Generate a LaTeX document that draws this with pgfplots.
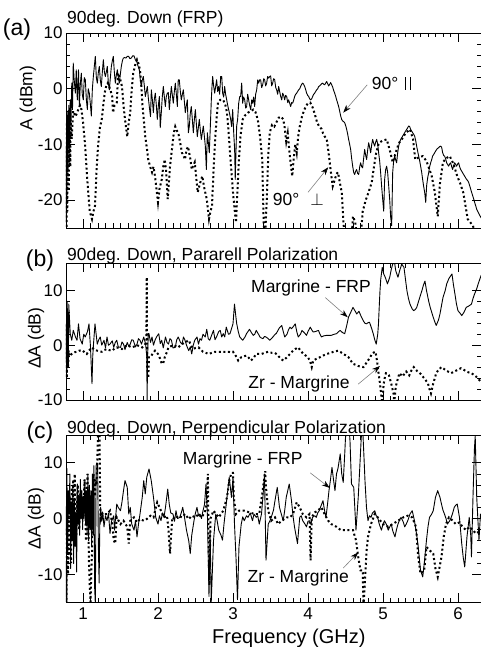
\documentclass[border=0pt]{standalone}
\usepackage{fontspec}
\setmainfont{Liberation Sans}
\usepackage{pgfplots}
\pgfplotsset{compat=1.18}
\usetikzlibrary{arrows.meta}
\newcommand{\fs}[1]{\fontsize{#1}{#1}\selectfont}

\pgfplotsset{
  panel/.style={
    scale only axis, width=415pt,
    xmin=0.7733, xmax=6.307,
    xtick={1,2,3,4,5,6}, minor x tick num=9, minor y tick num=4,
    tick pos=both, tick align=inside,
    major tick length=9pt, minor tick length=4.5pt,
    axis line style={line width=0.9pt},
    every tick/.style={black, line width=0.7pt},
    tick label style={font=\fs{17}},
    /pgf/number format/assume math mode=true,
    ylabel style={font=\fs{17.5}, anchor=center},
    clip mode=individual,
  },
  solidline/.style={black, line width=0.9pt, line join=round, mark=none},
  dotline/.style={black, line width=2pt, dash pattern=on 2pt off 2.6pt, mark=none},
}
\tikzset{
  note/.style={font=\fs{17.5}, inner sep=0pt},
  pointer/.style={gray, line width=0.6pt, -{Stealth[length=8pt, width=5.5pt, black]}},
}

\begin{document}
\begin{tikzpicture}
\useasboundingbox (0,0) rectangle (481pt,-647pt);

% ---------------- (a)
\begin{axis}[panel, at={(66pt,-33pt)}, anchor=north west, height=195pt,
  ymin=-25, ymax=10, ytick={-20,-10,0,10}, xticklabels={,,,,,},
  ylabel={A (dBm)}, ylabel style={at={(axis description cs:-0.092,0.667)}},
]
\addplot[solidline] coordinates {
(0.775,-24) (0.78,-8) (0.785,-20) (0.79,-4) (0.80,-15) (0.81,-3) (0.82,-10) (0.83,-2) (0.84,-6) (0.85,1)
(0.86,-3.75) (0.87,4.6) (0.88,2) (0.898,-0.8) (0.91,3.4) (0.924,-2) (0.94,3.4) (0.951,-3.2) (0.965,1) (0.978,2.8)
(0.99,-1) (1.004,-2) (1.017,2) (1.031,1.6) (1.045,-2) (1.058,-3.75) (1.07,0) (1.084,-0.8) (1.10,-3) (1.111,-4.9)
(1.125,0) (1.138,2.2) (1.164,5.8) (1.178,2) (1.191,1) (1.205,3) (1.218,4) (1.231,1.5) (1.244,0.4) (1.258,3)
(1.271,5.2) (1.285,3) (1.298,2.2) (1.311,3) (1.324,4) (1.338,1) (1.351,-0.2) (1.365,2) (1.378,4) (1.391,5)
(1.404,5.8) (1.418,3) (1.431,1) (1.445,2.5) (1.458,3.4) (1.471,2) (1.484,1) (1.497,2.5) (1.511,4) (1.525,5)
(1.538,5.5) (1.555,5.6) (1.573,5.5) (1.59,5.8) (1.609,5.8) (1.625,5.4) (1.644,5.5) (1.662,5.9) (1.68,5.9) (1.698,5.2)
(1.716,4.9) (1.735,4) (1.751,3.4) (1.765,1.5) (1.778,0.4) (1.79,1.5) (1.804,2.2) (1.818,0.5) (1.831,-1.4) (1.845,-0.5)
(1.858,0.4) (1.87,-1.5) (1.884,-3.2) (1.9,-5) (1.911,-0.2) (1.925,-2) (1.938,-4.3) (1.95,-2) (1.964,-0.8) (1.978,-3)
(1.991,-5.5) (2.005,-3) (2.018,-1.4) (2.03,-7) (2.044,-4.3) (2.057,-1.5) (2.071,0.4) (2.085,-1.5) (2.098,-3.2) (2.11,-1.5)
(2.124,-0.8) (2.138,-0.7) (2.151,-3.75) (2.165,-1.5) (2.178,0.4) (2.19,-1) (2.204,-2.6) (2.218,-0.5) (2.231,1) (2.245,-1)
(2.258,-3.2) (2.27,1.6) (2.284,1.6) (2.298,-0.5) (2.311,-2) (2.325,-1) (2.338,-0.2) (2.35,-2) (2.364,-4.3) (2.378,-3)
(2.391,-2) (2.405,-7.9) (2.418,-6.7) (2.43,-4.5) (2.444,-3.2) (2.458,-5.5) (2.471,-7.9) (2.485,-5.5) (2.498,-3.75) (2.51,-6)
(2.524,-8.6) (2.538,-7) (2.551,-5.5) (2.565,-7.5) (2.578,-9.1) (2.59,-8) (2.604,-6.7) (2.618,-8.5) (2.631,-10.3) (2.645,-14.5)
(2.658,-7.9) (2.67,-9.5) (2.684,-11.5) (2.70,-6) (2.711,-2) (2.72,0.4) (2.729,2.2) (2.742,0.5) (2.756,-0.8) (2.77,0.5)
(2.782,1.6) (2.796,-0.5) (2.809,0.4) (2.822,-1) (2.836,2.2) (2.85,2.2) (2.862,-0.8) (2.876,-1.5) (2.889,0.4) (2.902,-1)
(2.916,-2) (2.93,-3) (2.942,-3.75) (2.955,-4.5) (2.969,-5.5) (2.982,-6.8) (2.996,-3.75) (3.01,-8) (3.022,-10.9) (3.03,-16.3)
(3.049,-6.7) (3.062,-5.5) (3.076,-2.6) (3.09,-1.4) (3.102,-1.4) (3.116,1) (3.129,-2.6) (3.142,-1.5) (3.156,-2) (3.17,-3.5)
(3.182,-3.2) (3.196,-1) (3.209,-2) (3.222,-3) (3.236,-3.75) (3.25,-2) (3.262,-2.6) (3.276,-1.5) (3.289,-3.2) (3.302,-1)
(3.316,-0.2) (3.33,1.6) (3.342,1) (3.356,1.6) (3.369,1.6) (3.382,0.2) (3.396,0.7) (3.41,1.8) (3.422,1.6) (3.436,0.5)
(3.449,1) (3.462,2.2) (3.476,1.9) (3.49,2.2) (3.502,2.3) (3.516,0.5) (3.529,1) (3.542,1.8) (3.556,1.6) (3.57,0.2)
(3.582,-0.2) (3.596,-1) (3.609,0.4) (3.622,-0.5) (3.636,-1.4) (3.65,-2) (3.662,-0.8) (3.676,-1.2) (3.689,-2) (3.702,-1.2)
(3.716,-1.4) (3.73,-2.5) (3.742,-2) (3.756,-2.6) (3.769,-3.2) (3.782,-2.5) (3.796,-2.6) (3.81,-2) (3.822,-1.4) (3.836,-1)
(3.849,-0.8) (3.862,-0.5) (3.876,-0.2) (3.89,0) (3.902,0.4) (3.916,0.8) (3.929,1) (3.942,0.8) (3.956,0.4) (3.97,-0.2)
(3.982,-0.8) (3.996,-1.2) (4.009,-1.4) (4.022,-1.8) (4.036,-2) (4.05,-1.8) (4.062,-1.4) (4.076,-1) (4.089,-0.8) (4.102,-0.5)
(4.116,-0.2) (4.13,0) (4.142,0.4) (4.156,0.5) (4.169,0.7) (4.182,0.9) (4.196,1) (4.21,0.8) (4.222,0.7) (4.236,1)
(4.249,1.3) (4.262,0.9) (4.276,0.5) (4.29,0.8) (4.302,1.1) (4.316,0.7) (4.329,0.3) (4.342,-0.3) (4.356,-0.8) (4.37,-1.4)
(4.382,-2) (4.396,-2.6) (4.409,-3.2) (4.422,-4) (4.436,-4.9) (4.449,-5.5) (4.462,-5.8) (4.476,-5.9) (4.489,-6.1) (4.502,-6.6)
(4.516,-7.3) (4.53,-8.2) (4.542,-9.1) (4.556,-10) (4.569,-10.9) (4.582,-12.5) (4.596,-13.9) (4.609,-15) (4.622,-15.4) (4.636,-14.8)
(4.649,-14.5) (4.662,-15.2) (4.676,-15.4) (4.69,-14) (4.702,-13.3) (4.716,-14) (4.729,-14.2) (4.742,-12.5) (4.756,-10.9) (4.77,-12)
(4.782,-12.7) (4.796,-11) (4.809,-9.7) (4.822,-10.5) (4.836,-11.5) (4.85,-10) (4.862,-9.1) (4.876,-9.8) (4.889,-10.3) (4.902,-9.6)
(4.916,-9.1) (4.93,-10) (4.942,-11.5) (4.956,-13) (4.969,-15.1) (4.982,-17.5) (4.996,-19.8) (5.01,-22) (5.022,-16.3) (5.036,-14.5)
(5.049,-13.9) (5.062,-15) (5.076,-17.4) (5.09,-20) (5.102,-23) (5.116,-24.6) (5.129,-15.1) (5.142,-13) (5.156,-12.1) (5.17,-12.8)
(5.182,-13.3) (5.196,-11.5) (5.209,-10.3) (5.222,-9.6) (5.236,-9.1) (5.25,-8.8) (5.262,-8.5) (5.276,-8.2) (5.289,-7.9) (5.302,-7.6)
(5.316,-7.3) (5.33,-7) (5.342,-6.7) (5.356,-6.8) (5.369,-7.3) (5.382,-7.6) (5.396,-7.9) (5.41,-8.2) (5.422,-8.5) (5.436,-9.3)
(5.449,-10.3) (5.462,-11.2) (5.476,-12.1) (5.49,-13) (5.502,-13.9) (5.516,-15) (5.529,-16.3) (5.542,-17.5) (5.556,-18.6) (5.57,-20.4)
(5.582,-17.4) (5.596,-16) (5.609,-15.1) (5.622,-14) (5.636,-13.3) (5.65,-12.7) (5.662,-12.1) (5.676,-11.8) (5.689,-11.5) (5.702,-11.2)
(5.716,-10.9) (5.73,-10.7) (5.742,-10.6) (5.756,-10.4) (5.769,-10.3) (5.782,-10.5) (5.796,-11.5) (5.81,-12) (5.822,-12.1) (5.836,-12.6)
(5.849,-13.3) (5.862,-13.6) (5.876,-13.9) (5.89,-13.5) (5.902,-13.3) (5.916,-14) (5.929,-14.5) (5.942,-13.8) (5.956,-13.3) (5.97,-13.6)
(5.982,-13.9) (5.996,-13.5) (6.009,-13.3) (6.022,-14) (6.036,-14.5) (6.05,-14.8) (6.062,-15.1) (6.076,-15.4) (6.089,-15.7) (6.102,-16)
(6.116,-16.3) (6.13,-16.5) (6.142,-16.8) (6.156,-17.4) (6.169,-18) (6.182,-18.6) (6.196,-19.2) (6.21,-19.8) (6.222,-20.4) (6.236,-21)
(6.249,-21.6) (6.27,-22.2) (6.293,-22.8) (6.31,-23.2)
};
\addplot[dotline] coordinates {
(0.775,-12) (0.78,-25) (0.785,-6) (0.79,-22) (0.80,-8) (0.81,-18) (0.82,-5) (0.83,-14) (0.835,-5.5) (0.85,-9)
(0.87,-4) (0.9,-5) (0.93,-4) (0.96,-3) (0.98,-3.75) (1.0,-6) (1.03,-10.4) (1.05,-15) (1.07,-18.6) (1.09,-22)
(1.12,-23.4) (1.14,-22) (1.16,-21) (1.18,-15) (1.2,-10.4) (1.225,-7) (1.25,-5.5) (1.27,-3) (1.29,-0.7) (1.31,0.5)
(1.33,1) (1.36,0) (1.39,-1.4) (1.4,-4.3) (1.42,-3) (1.45,-2.5) (1.47,2.8) (1.49,2) (1.52,0.4) (1.54,-3)
(1.56,-5.5) (1.59,-8.6) (1.61,-6) (1.63,-4.3) (1.65,0) (1.67,2.8) (1.7,4.5) (1.72,5.2) (1.74,4.5) (1.76,3.4)
(1.775,1) (1.79,-2.5) (1.81,-5.5) (1.83,-8.6) (1.85,-10.5) (1.87,-12.7) (1.895,-14) (1.92,-15) (1.94,-14) (1.96,-15.7)
(1.98,-18) (2.0,-20.4) (2.02,-18) (2.05,-16.3) (2.07,-14) (2.09,-12.7) (2.11,-15) (2.13,-19.8) (2.16,-14) (2.19,-10.4)
(2.21,-8) (2.23,-6.8) (2.25,-7.5) (2.27,-7.9) (2.3,-10) (2.32,-11.5) (2.34,-12) (2.36,-12.7) (2.38,-11) (2.4,-10.4)
(2.43,-12.5) (2.45,-14.5) (2.47,-13.8) (2.49,-13.2) (2.51,-16) (2.53,-18.6) (2.56,-17) (2.59,-15.7) (2.62,-18) (2.65,-19.8)
(2.68,-23.4) (2.7,-22) (2.72,-21) (2.74,-15) (2.76,-9.6) (2.78,-5.5) (2.8,-2.5) (2.83,-2) (2.87,-2) (2.9,-3)
(2.92,-4.3) (2.94,-7.5) (2.96,-11.5) (2.98,-15) (3.0,-18.6) (3.02,-21.5) (3.04,-24) (3.06,-18) (3.08,-12.7) (3.1,-8.5)
(3.13,-5.5) (3.16,-4.8) (3.2,-4.3) (3.24,-4) (3.27,-3.75) (3.3,-4.2) (3.33,-5.5) (3.36,-8.5) (3.39,-12.7) (3.41,-24.6)
(3.43,-26) (3.45,-20) (3.47,-12) (3.49,-7.9) (3.52,-6.5) (3.55,-6.8) (3.58,-6) (3.61,-5.2) (3.64,-5) (3.67,-5.5)
(3.69,-7) (3.71,-9.5) (3.73,-8) (3.75,-11) (3.77,-13.5) (3.79,-15.7) (3.81,-12.5) (3.83,-10) (3.85,-11.5) (3.87,-8.5)
(3.89,-6.8) (3.92,-5) (3.95,-3.8) (3.98,-3) (4.0,-2.6) (4.03,-2.5) (4.06,-3.3) (4.09,-4.5) (4.12,-6) (4.15,-6.8)
(4.18,-7.2) (4.2,-8) (4.22,-8.5) (4.25,-9.1) (4.27,-11) (4.29,-13.2) (4.31,-15.5) (4.33,-17.5) (4.36,-16.2) (4.38,-15.3)
(4.4,-15) (4.42,-16.5) (4.45,-18.6) (4.47,-23.4) (4.49,-27) (4.58,-27) (4.6,-22.9) (4.63,-24) (4.66,-27) (4.7,-27)
(4.73,-22) (4.77,-20) (4.81,-18.5) (4.85,-16.8) (4.88,-14) (4.91,-11.5) (4.94,-10) (4.96,-9.6) (5.0,-9.3) (5.05,-9.1)
(5.09,-11) (5.13,-13.2) (5.17,-11.5) (5.21,-9.8) (5.25,-9.1) (5.3,-8) (5.36,-7.3) (5.4,-9) (5.43,-12.7) (5.48,-12.3)
(5.53,-12.1) (5.58,-13) (5.62,-14.5) (5.65,-15.7) (5.69,-18.5) (5.73,-22.9) (5.76,-17) (5.8,-13.2) (5.84,-12.5) (5.89,-12.1)
(5.94,-13.5) (5.99,-15.7) (6.03,-17) (6.07,-18.6) (6.1,-21) (6.13,-23.4) (6.2,-24.6) (6.25,-27) (6.31,-27)
};
\node[note, anchor=base west] at (axis cs:4.85,-0.2) {90°\hspace{7pt}\rule{0.9pt}{13pt}\hspace{3.5pt}\rule{0.9pt}{13pt}};
\draw[pointer] (axis cs:4.79,0.7) -- (axis cs:4.47,-4.3);
\node[note, anchor=base west] at (axis cs:3.53,-21.0) {90°\hspace{11pt}$\perp$};
\draw[pointer] (axis cs:4.0,-18.6) -- (axis cs:4.27,-14.1);
\node[font=\fs{17.5}, inner sep=0pt, anchor=base west] at (axis description cs:0,1) [yshift=9.5pt, xshift=1pt] {90deg. Down (FRP)};
\node[font=\fs{23}, inner sep=0pt, anchor=base] at (axis description cs:0,1) [xshift=-49pt, yshift=-3pt] {(a)};
\end{axis}

% ---------------- (b)
\begin{axis}[panel, at={(66pt,-263pt)}, anchor=north west, height=137pt,
  ymin=-10, ymax=15, ytick={-10,0,10}, xticklabels={,,,,,},
  ylabel={ΔA (dB)}, ylabel style={at={(axis description cs:-0.072,0.45)}},
]
\addplot[solidline] coordinates {
(0.775,-3) (0.78,5) (0.785,-5) (0.79,8) (0.795,-2) (0.80,6) (0.805,-4) (0.81,7.5) (0.83,2.1) (0.85,0.9)
(0.87,2.7) (0.9,1.5) (0.92,0.9) (0.94,3.9) (0.96,1.2) (0.99,0.2) (1.01,2) (1.03,1.5) (1.06,2.5) (1.08,3.9)
(1.1,-0.4) (1.12,-7.0) (1.13,-2) (1.14,0.2) (1.16,3.9) (1.19,0.2) (1.21,1) (1.23,1.5) (1.25,0) (1.28,0.9)
(1.3,-0.5) (1.32,1.5) (1.34,0) (1.36,0.2) (1.39,0.8) (1.41,-0.4) (1.43,0.5) (1.45,0.9) (1.47,-0.3) (1.5,-0.4)
(1.52,0.6) (1.54,0.2) (1.56,-0.8) (1.59,0.5) (1.61,-0.2) (1.63,0.2) (1.65,1) (1.67,0.9) (1.7,-0.3) (1.72,0.2)
(1.74,1.2) (1.76,0.9) (1.78,0.2) (1.81,1.5) (1.835,0.2) (1.85,-2) (1.855,-10.5) (1.86,-3) (1.87,2.1) (1.88,2.1)
(1.9,0.5) (1.92,1.5) (1.94,0) (1.96,0.9) (1.98,1.5) (2.01,2.1) (2.03,0.3) (2.05,0.9) (2.07,-0.5) (2.1,1.5)
(2.12,0.5) (2.14,0.2) (2.16,1.2) (2.18,0.9) (2.2,-0.5) (2.23,-0.4) (2.25,1) (2.27,1.5) (2.3,0.5) (2.32,0.2)
(2.34,1.5) (2.36,0.9) (2.38,0) (2.41,-1.0) (2.43,-0.3) (2.45,-1.6) (2.47,0) (2.49,0.9) (2.52,1.5) (2.54,0.2)
(2.56,1.2) (2.58,0.9) (2.6,2) (2.63,1.5) (2.65,2.9) (2.67,1.2) (2.69,0.9) (2.72,2) (2.74,2.7) (2.76,1)
(2.78,1.5) (2.81,2.5) (2.83,2.7) (2.85,1.5) (2.87,2.1) (2.89,1.5) (2.91,3.3) (2.94,2) (2.96,2.1) (2.98,3)
(3.0,3.9) (3.02,7.5) (3.04,5) (3.05,3.9) (3.07,2.5) (3.09,1.5) (3.11,1.2) (3.13,0.9) (3.16,1.5) (3.18,2.1)
(3.2,2.5) (3.22,2.9) (3.25,2.2) (3.27,1.8) (3.29,2) (3.31,2.7) (3.34,2) (3.36,1.5) (3.38,1.3) (3.4,1.2)
(3.42,1.6) (3.44,1.5) (3.47,1.2) (3.49,0.9) (3.52,1.3) (3.55,1.8) (3.58,2.2) (3.6,2.7) (3.62,3.2) (3.65,3.6)
(3.67,2.5) (3.69,1.5) (3.72,2) (3.74,2.8) (3.76,3.3) (3.78,3) (3.81,3.5) (3.83,3.9) (3.85,2.5) (3.87,1.5)
(3.9,2) (3.92,2.7) (3.95,2.3) (3.98,1.8) (4.0,2.5) (4.03,3.3) (4.05,2.8) (4.07,2.4) (4.1,2.5) (4.14,2.7)
(4.16,2) (4.18,1.5) (4.21,1.7) (4.25,1.8) (4.28,1.8) (4.31,1.8) (4.35,2) (4.38,2.1) (4.41,2.5) (4.43,2.7)
(4.46,2.3) (4.49,2.1) (4.52,3.8) (4.54,5.1) (4.57,6) (4.6,6.9) (4.63,6.2) (4.65,5.7) (4.68,6.2) (4.71,5.2)
(4.74,4.4) (4.76,4) (4.78,3.9) (4.8,4.1) (4.82,4.2) (4.85,3) (4.87,2.1) (4.89,1) (4.91,0.2) (4.93,2)
(4.94,3.9) (4.95,7) (4.96,9.9) (4.97,12) (4.99,14.2) (5.01,13) (5.03,12.4) (5.06,11.2) (5.09,12.4) (5.11,13.8)
(5.13,14.8) (5.15,15.5) (5.17,13.6) (5.2,12.4) (5.22,13.5) (5.25,14.8) (5.28,14.2) (5.3,12) (5.32,9.9) (5.34,8.5)
(5.36,7.5) (5.39,6.6) (5.41,6.3) (5.43,6.5) (5.45,6.9) (5.47,7.8) (5.49,8.7) (5.52,10) (5.54,11) (5.56,11.7)
(5.58,10) (5.61,8) (5.63,6.9) (5.65,6) (5.67,5.1) (5.69,4.3) (5.71,3.6) (5.74,4.6) (5.76,5.7) (5.78,7.2)
(5.8,8.7) (5.83,10) (5.85,11.2) (5.88,12.2) (5.92,13) (5.94,11) (5.96,9.3) (5.98,7.5) (6.0,6.3) (6.03,5.8)
(6.05,5.4) (6.08,6) (6.11,6.9) (6.15,7.2) (6.18,7.5) (6.2,8.5) (6.22,9.3) (6.25,10.3) (6.27,11.2) (6.3,12.4)
(6.31,12.8)
};
\addplot[dotline] coordinates {
(0.775,-5) (0.78,4) (0.785,-6) (0.79,6) (0.795,-3) (0.80,-4) (0.81,-1) (0.82,-2) (0.85,-1.6) (0.88,-1.3)
(0.92,-1.2) (0.95,-1) (0.99,-0.9) (1.02,-1.3) (1.05,-1.6) (1.08,-1) (1.12,-0.4) (1.15,-0.8) (1.19,-1.0) (1.22,-1.1)
(1.25,-1.2) (1.28,-0.9) (1.32,-0.7) (1.35,-0.9) (1.39,-1.0) (1.42,-0.6) (1.45,-0.4) (1.49,-0.6) (1.52,-0.7) (1.55,-0.3)
(1.59,0.0) (1.62,-0.2) (1.65,-0.4) (1.69,-0.2) (1.72,0.0) (1.76,-0.2) (1.79,-0.4) (1.83,0.2) (1.845,0.5) (1.85,12.4)
(1.855,-4) (1.87,-6) (1.88,-2.2) (1.9,-2.2) (1.93,-1.5) (1.96,-1.0) (2.0,-1.6) (2.03,-2.5) (2.05,-3.4) (2.07,-3.3)
(2.09,-2.2) (2.12,-1.2) (2.14,-0.4) (2.17,-0.2) (2.2,0.0) (2.24,-0.2) (2.27,-0.4) (2.3,0) (2.32,0.2) (2.36,0.5)
(2.41,0.9) (2.44,0) (2.47,-0.7) (2.5,-0.5) (2.54,-0.4) (2.57,-0.8) (2.6,-1.2) (2.64,-1.4) (2.67,-1.6) (2.72,-1.4)
(2.76,-1.2) (2.81,-1.2) (2.85,-1.2) (2.9,-1.2) (2.94,-1.2) (2.97,-1.3) (3.0,-1.2) (3.04,-2) (3.07,-2.8) (3.09,-2.5)
(3.11,-2.2) (3.15,-2) (3.18,-1.9) (3.21,-2.3) (3.24,-2.8) (3.28,-2.2) (3.31,-1.6) (3.35,-1.6) (3.38,-1.6) (3.42,-1.4)
(3.47,-1.2) (3.52,-1.4) (3.56,-1.4) (3.6,-1.9) (3.64,-2.5) (3.67,-2.8) (3.72,-2.2) (3.76,-1.6) (3.8,-1.0) (3.83,-0.7)
(3.87,-0.4) (3.9,-1) (3.94,-1.6) (3.97,-1.9) (4.0,-2.2) (4.03,-3) (4.05,-4.0) (4.07,-2.8) (4.11,-2.5) (4.16,-2.2)
(4.2,-1.9) (4.25,-1.6) (4.3,-1.4) (4.34,-1.2) (4.4,-1.0) (4.44,-1.3) (4.47,-1.6) (4.51,-1.9) (4.54,-2.2) (4.57,-2.8)
(4.6,-3.4) (4.64,-3.6) (4.67,-3.8) (4.7,-3.9) (4.74,-4.0) (4.77,-3.4) (4.8,-2.8) (4.83,-2.2) (4.85,-1.6) (4.88,-1.3)
(4.9,-1.2) (4.92,-2.8) (4.94,-5) (4.96,-7.0) (4.98,-9.5) (4.99,-10.5) (5.01,-7.0) (5.03,-5.5) (5.04,-5.1) (5.06,-5.2)
(5.08,-5.5) (5.11,-7.0) (5.14,-8.8) (5.15,-10.5) (5.17,-7.6) (5.2,-6) (5.22,-5.1) (5.26,-5.7) (5.31,-4.8) (5.35,-5.5)
(5.38,-4.6) (5.41,-4.0) (5.46,-4.8) (5.5,-5.2) (5.53,-5.7) (5.57,-6.4) (5.6,-7.0) (5.62,-8) (5.64,-8.8) (5.66,-7.6)
(5.67,-7.0) (5.71,-5.1) (5.74,-4.5) (5.78,-4.0) (5.81,-4.3) (5.84,-4.6) (5.88,-4.9) (5.91,-5.1) (5.95,-4.8) (5.98,-4.6)
(6.01,-4.4) (6.04,-4.2) (6.08,-4.5) (6.11,-4.8) (6.15,-5) (6.18,-5.1) (6.21,-5.4) (6.24,-5.7) (6.27,-6.1) (6.31,-6.8)
};
\node[note] at (axis cs:4.04,10.5) {Margrine - FRP};
\draw[pointer] (axis cs:4.23,8.7) -- (axis cs:4.53,5.1);
\node[note] at (axis cs:3.88,-7.1) {Zr - Margrine};
\draw[pointer] (axis cs:4.67,-7.1) -- (axis cs:4.96,-3.8);
\node[font=\fs{17.5}, inner sep=0pt, anchor=base west] at (axis description cs:0,1) [yshift=3pt, xshift=1pt] {90deg. Down, Pararell Polarization};
\node[font=\fs{23}, inner sep=0pt, anchor=base] at (axis description cs:0,1) [xshift=-26pt, yshift=-3pt] {(b)};
\end{axis}

% ---------------- (c)
\begin{axis}[panel, at={(66pt,-435pt)}, anchor=north west, height=167pt,
  ymin=-15, ymax=15, ytick={-10,0,10},
  xticklabel style={yshift=-2pt},
  ylabel={ΔA (dB)}, ylabel style={at={(axis description cs:-0.072,0.50)}},
  xlabel={Frequency (GHz)},
  xlabel style={font=\fs{20}, inner sep=0pt, at={(axis description cs:0.537,0)}, anchor=north, yshift=-27pt},
]
\addplot[solidline] coordinates {
(0.775,-3) (0.785,9) (0.795,-6) (0.805,5) (0.815,0.8) (0.825,8) (0.835,-9) (0.845,3) (0.855,-4) (0.865,6)
(0.875,-8.1) (0.885,3.6) (0.895,-5) (0.905,0.8) (0.915,-9.6) (0.925,6.2) (0.935,-1) (0.945,4) (0.955,-3) (0.965,7)
(0.975,0) (0.985,5) (0.995,-2) (1.005,4) (1.015,0) (1.025,7) (1.035,-1) (1.045,5) (1.055,-3) (1.065,8)
(1.075,-4) (1.085,6) (1.095,-2) (1.105,5) (1.115,-5) (1.125,8) (1.135,-3) (1.145,9.5) (1.155,-12.3) (1.165,-15.5)
(1.175,9.5) (1.185,10) (1.195,9.8) (1.205,-5) (1.215,-11.6) (1.225,0) (1.235,2) (1.25,-0.5) (1.265,1) (1.28,-1.5)
(1.3,0.5) (1.32,-0.4) (1.34,1) (1.36,-2.7) (1.38,-0.5) (1.41,0.5) (1.42,-2.1) (1.45,2.6) (1.47,2) (1.5,1.4)
(1.52,3) (1.54,5.0) (1.56,6.8) (1.59,5.6) (1.61,0.8) (1.63,2.0) (1.65,-1.0) (1.68,-2.1) (1.7,-0.4) (1.72,-3.3)
(1.74,-1.0) (1.76,0.8) (1.79,3.8) (1.81,6.8) (1.83,4.4) (1.85,7.4) (1.88,8.9) (1.91,6.8) (1.94,3.8) (1.97,0.2)
(2.0,-1.0) (2.02,0.5) (2.04,-0.4) (2.06,1) (2.08,0.2) (2.1,2) (2.13,5.3) (2.15,2.6) (2.17,1) (2.2,0.8)
(2.22,-0.5) (2.24,1.4) (2.26,0) (2.29,0.2) (2.31,1) (2.33,2.0) (2.35,0.5) (2.38,-2.1) (2.41,-4) (2.43,-6.3)
(2.45,-3) (2.48,-0.4) (2.5,1) (2.52,2.0) (2.54,0.5) (2.56,0.8) (2.58,0) (2.6,1.4) (2.62,2.5) (2.64,6.2)
(2.66,0.2) (2.68,-14) (2.695,-2.1) (2.71,-15) (2.74,-4) (2.77,0.8) (2.79,-0.5) (2.81,-2.1) (2.84,-3) (2.86,-3.9)
(2.88,-1) (2.9,1.4) (2.92,3.8) (2.95,7.4) (2.98,3.8) (3.0,7.4) (3.02,-1.0) (3.04,-7) (3.06,-14.6) (3.08,-5.0)
(3.11,-1.0) (3.13,0.3) (3.15,-0.4) (3.18,0.5) (3.2,0.2) (3.23,1) (3.26,-0.4) (3.28,0.8) (3.31,0.2) (3.33,0.5)
(3.35,-1.0) (3.38,0.8) (3.4,4) (3.42,8.0) (3.44,-7.5) (3.47,-1.0) (3.49,-0.5) (3.51,0.2) (3.54,1.5) (3.56,3.2)
(3.59,5.6) (3.62,2.0) (3.64,1) (3.67,-0.4) (3.69,1.5) (3.71,3.8) (3.75,6.2) (3.78,3.2) (3.8,0.5) (3.82,-1.5)
(3.84,-3) (3.86,-4.5) (3.89,0.2) (3.91,0.5) (3.93,-0.4) (3.96,-1) (3.98,-1.5) (4.0,-0.5) (4.02,-0.4) (4.04,-1)
(4.06,0.2) (4.09,0.5) (4.11,0.2) (4.13,1) (4.15,1.4) (4.18,2.5) (4.2,3.2) (4.22,1.5) (4.24,0.2) (4.26,2.5)
(4.28,5.0) (4.3,7) (4.32,9.2) (4.34,7) (4.36,5.0) (4.38,8.0) (4.4,9) (4.43,11.6) (4.45,8) (4.47,6.5)
(4.49,11.6) (4.5,14.5) (4.52,16) (4.55,16) (4.56,14) (4.58,6.2) (4.61,5.6) (4.64,-2.1) (4.67,3.8) (4.69,9)
(4.71,14.5) (4.73,16) (4.75,10) (4.76,6.8) (4.78,2) (4.8,-0.4) (4.82,0.5) (4.84,0.2) (4.86,1) (4.89,1.4)
(4.91,0.5) (4.93,0.2) (4.95,-1) (4.98,-2.1) (5.0,-1) (5.02,-0.4) (5.05,-1.2) (5.07,-2.1) (5.09,-1.5) (5.11,-1.0)
(5.13,-2.2) (5.16,-3.3) (5.18,-2) (5.2,-1.0) (5.22,-0.3) (5.24,0.2) (5.27,-0.6) (5.29,-1.5) (5.31,-1) (5.33,-0.4)
(5.36,0.8) (5.39,1.4) (5.42,-0.4) (5.45,-3) (5.47,-5.1) (5.5,-9.3) (5.53,-10.5) (5.55,-8.1) (5.58,-3.9) (5.6,-1.5)
(5.62,0.2) (5.65,0.8) (5.67,1.4) (5.7,3.8) (5.73,5.0) (5.76,3.8) (5.78,2.6) (5.8,1.5) (5.82,0.8) (5.84,0)
(5.86,-1.0) (5.89,-0.4) (5.91,0.2) (5.93,1) (5.95,2.0) (5.97,2.4) (5.99,2.6) (6.02,0.2) (6.05,-4.5) (6.07,-7)
(6.09,-8.7) (6.12,-3.3) (6.15,0.2) (6.17,-3) (6.18,-6.9) (6.2,3.8) (6.22,12.7) (6.23,14.8) (6.25,3.8) (6.28,-3.9)
(6.3,0.8) (6.31,0)
};
\addplot[dotline] coordinates {
(0.775,-8) (0.78,-15) (0.79,5) (0.80,-10) (0.81,2) (0.82,4) (0.83,-6) (0.84,-8) (0.85,6) (0.86,-2)
(0.87,7) (0.88,-4) (0.89,8) (0.9,3) (0.91,-3) (0.92,2) (0.93,6) (0.94,4) (0.95,-2) (0.96,4)
(0.97,5) (0.98,1) (0.99,4) (1.0,1) (1.01,3) (1.02,7) (1.03,2) (1.04,-4) (1.05,3) (1.06,8)
(1.07,0) (1.08,-8) (1.09,-12) (1.1,-15) (1.11,-10) (1.12,-6) (1.13,3) (1.14,8) (1.15,6) (1.16,4)
(1.17,7) (1.18,6) (1.19,10) (1.2,15) (1.21,16) (1.22,15) (1.23,2) (1.24,0) (1.26,1) (1.28,0.8)
(1.32,0.8) (1.36,1.4) (1.39,-1) (1.41,-3.9) (1.43,-4.5) (1.45,0.2) (1.5,-1.0) (1.54,-0.4) (1.59,-1.5) (1.61,-4.5)
(1.63,-0.4) (1.68,0.2) (1.72,-0.7) (1.76,-0.1) (1.81,-0.4) (1.85,-0.1) (1.9,0.5) (1.94,0.2) (1.99,2.9) (2.03,1.7)
(2.08,0.2) (2.12,0.5) (2.14,-2) (2.16,-6.3) (2.18,-2) (2.19,0.2) (2.23,-0.1) (2.27,0.5) (2.32,0.2) (2.36,0.8)
(2.41,-0.1) (2.45,0.5) (2.5,0.2) (2.54,0.8) (2.58,0.2) (2.61,0.8) (2.63,1.4) (2.65,3) (2.665,8) (2.675,-5)
(2.685,-12) (2.7,0) (2.74,1.4) (2.81,0.2) (2.87,1.4) (2.92,3.8) (2.95,6.8) (2.98,8.2) (3.0,8.2) (3.01,3.8)
(3.04,0.8) (3.08,1.4) (3.15,1.4) (3.22,1.1) (3.29,0.8) (3.35,0.8) (3.39,4.4) (3.42,7.6) (3.43,8.5) (3.44,5.6)
(3.47,1.4) (3.51,-0.4) (3.56,0.2) (3.6,-1.0) (3.65,-0.4) (3.72,0.2) (3.76,0.2) (3.8,0.8) (3.85,2.9) (3.89,2.0)
(3.93,0.8) (3.98,0.2) (4.02,0.8) (4.035,-7.5) (4.05,0.2) (4.09,1.1) (4.13,1.4) (4.18,2.0) (4.22,0.8) (4.27,-0.4)
(4.31,-1.0) (4.38,-1.5) (4.44,-2.1) (4.5,-2.1) (4.55,-2.1) (4.6,-2.1) (4.64,-3.9) (4.67,-6.9) (4.7,-9.3) (4.73,-9.3)
(4.74,-16) (4.76,-11) (4.78,-6) (4.8,-3.3) (4.84,-1.0) (4.89,0.8) (4.93,0.2) (5.0,-1.0) (5.07,-1.5) (5.13,-1.0)
(5.2,-0.4) (5.27,0.2) (5.33,0.5) (5.39,0.2) (5.44,-1.5) (5.47,-6.9) (5.5,-9.9) (5.55,-9.3) (5.58,-5.1) (5.62,-5.7)
(5.67,-6.3) (5.7,-9) (5.73,-10.5) (5.78,-6.9) (5.81,-3.3) (5.84,-1.0) (5.88,0.2) (5.93,-0.4) (5.97,-1.0) (6.02,-0.7)
(6.06,-1.5) (6.11,-2.1) (6.15,-1.5) (6.2,-2.1) (6.24,-2.7) (6.31,-2.1)
};
\node[note] at (axis cs:3.13,10.5) {Margrine - FRP};
\draw[pointer] (axis cs:4.03,8.2) -- (axis cs:4.29,5.5);
\node[note] at (axis cs:3.87,-10.7) {Zr - Margrine};
\draw[pointer] (axis cs:4.47,-8.9) -- (axis cs:4.67,-6.1);
\node[font=\fs{17.5}, inner sep=0pt, anchor=base west] at (axis description cs:0,1) [yshift=2pt, xshift=1pt] {90deg. Down, Perpendicular Polarization};
\node[font=\fs{23}, inner sep=0pt, anchor=base] at (axis description cs:0,1) [xshift=-26pt, yshift=-3pt] {(c)};
\end{axis}
\end{tikzpicture}
\end{document}
